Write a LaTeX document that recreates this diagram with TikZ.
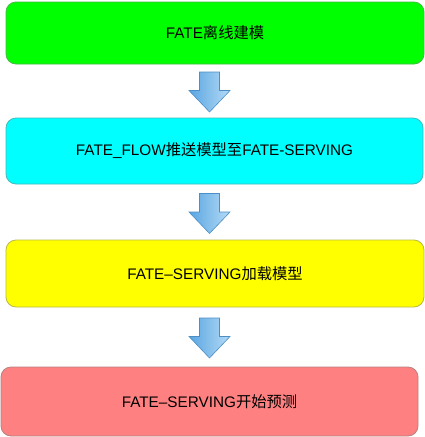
\documentclass[tikz,border=0pt]{standalone}
\usepackage{fontspec}
\setmainfont{Liberation Sans}
\newfontfamily\cjk{Noto Sans CJK SC}
\usetikzlibrary{positioning}
\definecolor{stagegreen}{HTML}{00FF00}
\definecolor{stagecyan}{HTML}{00FFFF}
\definecolor{stageyellow}{HTML}{FFFF00}
\definecolor{stagered}{HTML}{FF8080}
\definecolor{arrowdark}{HTML}{5AA6E2}
\definecolor{arrowlight}{HTML}{B4DAF6}
\definecolor{arrowline}{HTML}{4C8FC6}
\tikzset{
  stage/.style={draw=#1!45!gray, fill=#1, rounded corners=10pt, line width=0.8pt,
    font=\fontsize{15.3}{18}\selectfont, inner sep=0pt},
  flowdown/.pic={
    \path[draw=arrowline, line width=0.6pt, left color=arrowdark, right color=arrowlight]
      (-10,0) -- (10,0) -- (10,18.5) -- (20.5,18.5) -- (0,40)
      -- (-20.5,18.5) -- (-10,18.5) -- cycle;
  }
}
\begin{document}
\begin{tikzpicture}[x=1pt,y=-1pt]
  \useasboundingbox (0,0) rectangle (425,437);
  \node[stage=stagegreen, minimum width=418pt, minimum height=62pt] (offline) at (215,33) {FATE{\cjk 离线建模}};
  \node[stage=stagecyan, minimum width=417pt, minimum height=66pt] (push) at (214.5,151) {FATE\_FLOW{\cjk 推送模型至}FATE-SERVING};
  \node[stage=stageyellow, minimum width=418pt, minimum height=67pt] (load) at (215,273.5) {FATE–SERVING{\cjk 加载模型}};
  \node[stage=stagered, minimum width=417pt, minimum height=69pt] (predict) at (209.5,401.5) {FATE–SERVING{\cjk 开始预测}};
  % arrows between the stages
  \pic at (209.5,72) {flowdown};
  \pic at (209.5,193.5) {flowdown};
  \pic at (209.5,318) {flowdown};
\end{tikzpicture}
\end{document}
